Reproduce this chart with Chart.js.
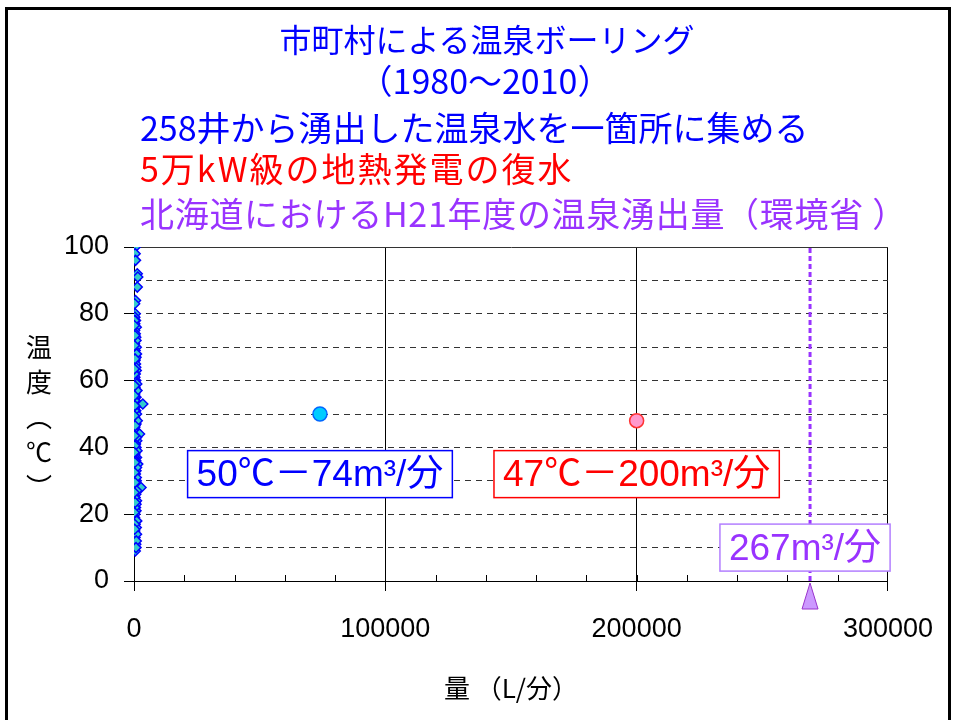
<!DOCTYPE html>
<html lang="ja">
<head>
<meta charset="utf-8">
<title>市町村による温泉ボーリング</title>
<script src="https://cdn.jsdelivr.net/npm/chart.js@4.4.1/dist/chart.umd.min.js"></script>
<style>
    body { margin: 0; background: #fff; }
    #slide { position: relative; width: 955px; height: 720px; overflow: hidden; background: #fff; }
    #frame { position: absolute; left: 5px; top: 7px; width: 946px; height: 740px;
        border: 3px solid #000; box-sizing: border-box; }
    #box { position: absolute; left: 0; top: 0; width: 955px; height: 720px; }
    .ttl { position: absolute; font-family: "Noto Sans CJK JP", sans-serif; font-size: 34px;
        line-height: 34px; white-space: nowrap; }
    .center { transform: translateX(-50%); }
    #ytitle { position: absolute; left: 25px; top: 328px; width: 28px; font-family: "Noto Sans CJK JP", sans-serif;
        font-size: 26px; line-height: 35px; text-align: center; color: #000; }
</style>
</head>
<body>
<div id="slide">
    <div id="box"><canvas id="chart"></canvas></div>
    <div class="ttl center" style="left:487px; top:21px; font-size:32px; color:#0000FF">市町村による温泉ボーリング</div>
    <div class="ttl center" style="left:485px; top:63px; color:#0000FF">（1980～2010）</div>
    <div class="ttl" style="left:140px; top:110px; color:#0000FF">258井から湧出した温泉水を一箇所に集める</div>
    <div class="ttl" style="left:140px; top:151px; letter-spacing:2px; color:#FF0000">5万kW級の地熱発電の復水</div>
    <div class="ttl" style="left:140px; top:196px; letter-spacing:0.7px; color:#9933FF">北海道におけるH21年度の温泉湧出量（環境省 ）</div>
    <div id="ytitle">温<br>度<br>︵<br>℃<br>︶</div>
    <div id="frame"></div>
</div>
<script>
'use strict'

// 258 wells: flow (L/min) and temperature (°C)
let boringFlow = [
        500, 450, 600, 1300, 1500, 1300, 600, 250, 500, 350,
        600, 300, 900, 250, 500, 700, 350, 200, 900, 450,
        300, 800, 400, 600, 250, 900, 500, 350, 700, 200,
        1100, 400, 600, 300, 800, 350, 500, 3500, 450, 700,
        350, 1000, 250, 600, 800, 400, 300, 700, 200, 900,
        2200, 450, 350, 1100, 600, 250, 800, 500, 350, 1000,
        200, 700, 450, 1500, 300, 800, 550, 400, 900, 250,
        500, 1200, 2800, 350, 700, 450, 1000, 300, 600, 800,
        350, 200, 700, 450, 900, 300, 600, 400, 250, 700,
        350, 500,
        200, 800, 1000, 700, 150, 1200, 250, 200, 1300, 1000,
        300, 1200, 250, 1000, 900, 1100, 150, 800, 250, 1100,
        200, 1000, 900, 800,
        100, 300, 150, 400, 100, 250, 150, 300, 100, 400,
        150, 300, 100, 250, 150, 300, 100, 400, 150, 250],
    boringTemp = [
        100, 98, 96, 92, 91, 88, 84, 83, 80, 79,
        78, 77, 76, 75, 74, 73, 72, 71, 70, 69,
        68, 67, 66, 65, 64, 63, 62, 61, 60, 60,
        59, 58, 57, 56, 55, 55, 54, 53, 52, 51,
        50, 50, 49, 48, 47, 47, 46, 45, 45, 44,
        44, 43, 42, 42, 41, 40, 40, 39, 38, 37,
        37, 36, 35, 35, 34, 33, 32, 31, 30, 30,
        29, 28, 28, 27, 26, 25, 24, 23, 22, 21,
        20, 19, 18, 17, 16, 15, 14, 13, 12, 11,
        10, 9,
        78, 72, 68, 64, 62, 57, 54, 51, 48, 43,
        41, 39, 36, 34, 31, 27, 25, 23, 22, 18,
        17, 14, 12, 10,
        76.5, 73.5, 70.5, 66.5, 63.5, 58.5, 55.5, 52.5, 49.5, 46.5,
        43.5, 40.5, 38.5, 35.5, 32.5, 29.5, 26.5, 23.5, 20.5, 15.5],
    collectFlow = [74000],
    collectTemp = [50],
    geoFlow = [200000],
    geoTemp = [48],
    hokkaidoFlow = [269000, 269000],
    hokkaidoTemp = [0, 100],
    xMax = 300000,
    xLabelStep = 100000,
    xMinorStep = 20000,
    yMax = 100,
    yLabelStep = 20,
    notes = [
        {text: '50℃－74m³/分', x: 74000, y: 32, color: '#0000FF', line: '#0000FF'},
        {text: '47℃－200m³/分', x: 200000, y: 32, color: '#FF0000', line: '#FF0000'},
        {text: '267m³/分', x: 267000, y: 10, color: '#9933FF', line: '#B37FFF'}
    ]

function pairs(xs, ys) {
    return xs.map((x, i) => ({x: x, y: ys[i]}))
}

// boxed labels laid over the grid
let noteBoxes = {
    id: 'noteBoxes',
    afterDatasetsDraw(chart) {
        let ctx = chart.ctx, sx = chart.scales.x, sy = chart.scales.y
        ctx.save()
        ctx.font = '37px "Liberation Sans", "Noto Sans CJK JP", sans-serif'
        ctx.textAlign = 'center'
        ctx.textBaseline = 'middle'
        notes.forEach(n => {
            let cx = sx.getPixelForValue(n.x),
                cy = sy.getPixelForValue(n.y),
                w = ctx.measureText(n.text).width + 18,
                h = 47
            ctx.fillStyle = '#fff'
            ctx.fillRect(cx - w / 2, cy - h / 2, w, h)
            ctx.strokeStyle = n.line
            ctx.lineWidth = 1.5
            ctx.strokeRect(cx - w / 2, cy - h / 2, w, h)
            ctx.fillStyle = n.color
            ctx.fillText(n.text, cx, cy + 2)
        })
        ctx.restore()
    },
    afterDraw(chart) {
        let ctx = chart.ctx, sx = chart.scales.x, area = chart.chartArea
        ctx.save()
        // minor ticks pointing into the plot
        ctx.strokeStyle = '#000'
        ctx.lineWidth = 1
        for (let v = xMinorStep; v < xMax; v += xMinorStep) {
            let px = Math.round(sx.getPixelForValue(v)) + 0.5
            ctx.beginPath()
            ctx.moveTo(px, area.bottom)
            ctx.lineTo(px, area.bottom - 6)
            ctx.stroke()
        }
        // triangle marker under the Hokkaido line
        let tx = sx.getPixelForValue(hokkaidoFlow[0])
        ctx.beginPath()
        ctx.moveTo(tx, area.bottom + 2)
        ctx.lineTo(tx + 8, area.bottom + 28)
        ctx.lineTo(tx - 8, area.bottom + 28)
        ctx.closePath()
        ctx.fillStyle = '#CC99FF'
        ctx.fill()
        ctx.strokeStyle = '#9933CC'
        ctx.stroke()
        ctx.restore()
    }
}

let tickFont = {family: '"Liberation Sans", sans-serif', size: 27}

let config = {
    type: 'scatter',
    data: {
        datasets: [{
            label: 'H21',
            data: pairs(hokkaidoFlow, hokkaidoTemp),
            showLine: true,
            borderColor: '#9933FF',
            borderWidth: 3,
            borderDash: [5, 3],
            pointRadius: 0
        }, {
            label: 'wells',
            data: pairs(boringFlow, boringTemp),
            pointStyle: 'rectRot',
            pointRadius: 5,
            borderWidth: 1.5,
            borderColor: '#0000FF',
            backgroundColor: '#33CCCC'
        }, {
            label: 'collected',
            data: pairs(collectFlow, collectTemp),
            pointRadius: 7,
            borderWidth: 1.5,
            borderColor: '#0066FF',
            backgroundColor: '#00CCFF'
        }, {
            label: 'geothermal',
            data: pairs(geoFlow, geoTemp),
            pointRadius: 7,
            borderWidth: 1.5,
            borderColor: '#FF3333',
            backgroundColor: '#FF99CC'
        }]
    },
    options: {
        responsive: true,
        maintainAspectRatio: false,
        animation: false,
        layout: {padding: {top: 247, right: 66, left: 0, bottom: 0}},
        plugins: {legend: {display: false}, tooltip: {enabled: false}},
        scales: {
            x: {
                type: 'linear',
                min: 0,
                max: xMax,
                afterFit(scale) { scale.height = 139 },
                ticks: {
                    stepSize: xMinorStep,
                    autoSkip: false,
                    maxRotation: 0,
                    padding: 22,
                    color: '#000',
                    font: tickFont,
                    callback: v => v % xLabelStep === 0 ? String(v) : ''
                },
                grid: {
                    color: c => c.tick && c.tick.value % xLabelStep === 0 ? '#000' : 'rgba(0,0,0,0)',
                    tickColor: c => c.tick && c.tick.value % xLabelStep === 0 ? '#000' : 'rgba(0,0,0,0)',
                    tickLength: 10,
                    lineWidth: 1
                },
                border: {color: '#000', width: 1},
                title: {
                    display: true,
                    text: '量 （L/分）',
                    color: '#000',
                    font: {family: '"Noto Sans CJK JP", sans-serif', size: 26},
                    padding: {top: 0, bottom: 16}
                }
            },
            y: {
                type: 'linear',
                min: 0,
                max: yMax,
                afterFit(scale) { scale.width = 134 },
                ticks: {
                    stepSize: 10,
                    autoSkip: false,
                    padding: 15,
                    color: '#000',
                    font: tickFont,
                    callback: v => v % yLabelStep === 0 ? String(v) : ''
                },
                grid: {
                    color: '#333',
                    tickColor: c => c.tick && c.tick.value % yLabelStep === 0 ? '#000' : 'rgba(0,0,0,0)',
                    tickLength: 10,
                    lineWidth: 1
                },
                border: {
                    color: '#000',
                    width: 1,
                    dash: c => c.tick && c.tick.value > 0 && c.tick.value < yMax ? [6, 5] : []
                }
            }
        }
    },
    plugins: [noteBoxes]
}

let myChart = new Chart(document.getElementById('chart'), config)
</script>
</body>
</html>
